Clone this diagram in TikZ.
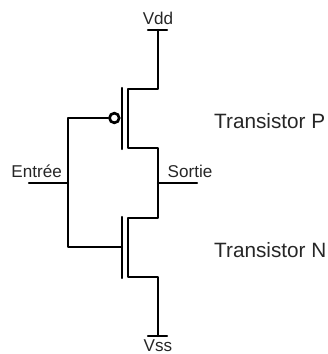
\documentclass[tikz,border=0pt]{standalone}
\usepackage{fontspec}
\setmainfont{Liberation Sans}
\tikzset{
  wire/.style={line width=0.66mm, line cap=round, line join=round},
  bubble/.style={circle, draw, line width=0.8mm, fill=white, inner sep=0pt, minimum size=2.9mm},
  small label/.style={font=\fontsize{14.6pt}{16pt}\selectfont, text=black!85, inner sep=0pt},
  big label/.style={font=\fontsize{17.7pt}{20pt}\selectfont, text=black!85, anchor=west, inner sep=0pt},
}
\begin{document}
\begin{tikzpicture}
  \useasboundingbox (0,0) rectangle (9.81,10.62);

  % supply rails
  \coordinate (VddL) at (4.44,9.72);
  \coordinate (VddR) at (5.01,9.72);
  \coordinate (VddC) at (4.74,9.72);
  \coordinate (VssL) at (4.44,0.54);
  \coordinate (VssR) at (5.01,0.54);
  \coordinate (VssC) at (4.74,0.54);

  % transistor P
  \coordinate (PD) at (3.84,7.95);
  \coordinate (PS) at (3.84,6.18);
  \coordinate (PGa) at (3.66,7.98);
  \coordinate (PGb) at (3.66,6.15);
  \coordinate (PG) at (3.66,7.08);
  \node[bubble] (PB) at (3.43,7.08) {};

  % transistor N
  \coordinate (ND) at (3.84,4.08);
  \coordinate (NS) at (3.84,2.31);
  \coordinate (NGa) at (3.66,4.11);
  \coordinate (NGb) at (3.66,2.28);
  \coordinate (NG) at (3.66,3.21);

  % input and output
  \coordinate (InA) at (0.87,5.13);
  \coordinate (InB) at (2.04,5.13);
  \coordinate (OutA) at (4.74,5.13);
  \coordinate (OutB) at (5.91,5.13);
  \coordinate (InTop) at (2.04,7.08);
  \coordinate (InBot) at (2.04,3.21);

  \draw[wire] (VddL) -- (VddR);
  \draw[wire] (VssL) -- (VssR);
  \draw[wire] (VddC) |- (PD) -- (PS) -| (OutA);
  \draw[wire] (OutA) |- (ND) -- (NS) -| (VssC);
  \draw[wire] (PGa) -- (PGb);
  \draw[wire] (NGa) -- (NGb);
  \draw[wire] (PB) -- (InTop) -- (InBot) -- (NG);
  \draw[wire] (InA) -- (InB);
  \draw[wire] (OutA) -- (OutB);

  \node[small label] (vdd) at (4.74,10.08) {Vdd};
  \node[small label] (vss) at (4.74,0.25) {Vss};
  \node[small label] (entree) at (1.1,5.49) {Entrée};
  \node[small label] (sortie) at (5.7,5.49) {Sortie};
  \node[big label] (tp) at (6.42,6.99) {Transistor P};
  \node[big label] (tn) at (6.42,3.12) {Transistor N};
\end{tikzpicture}
\end{document}
